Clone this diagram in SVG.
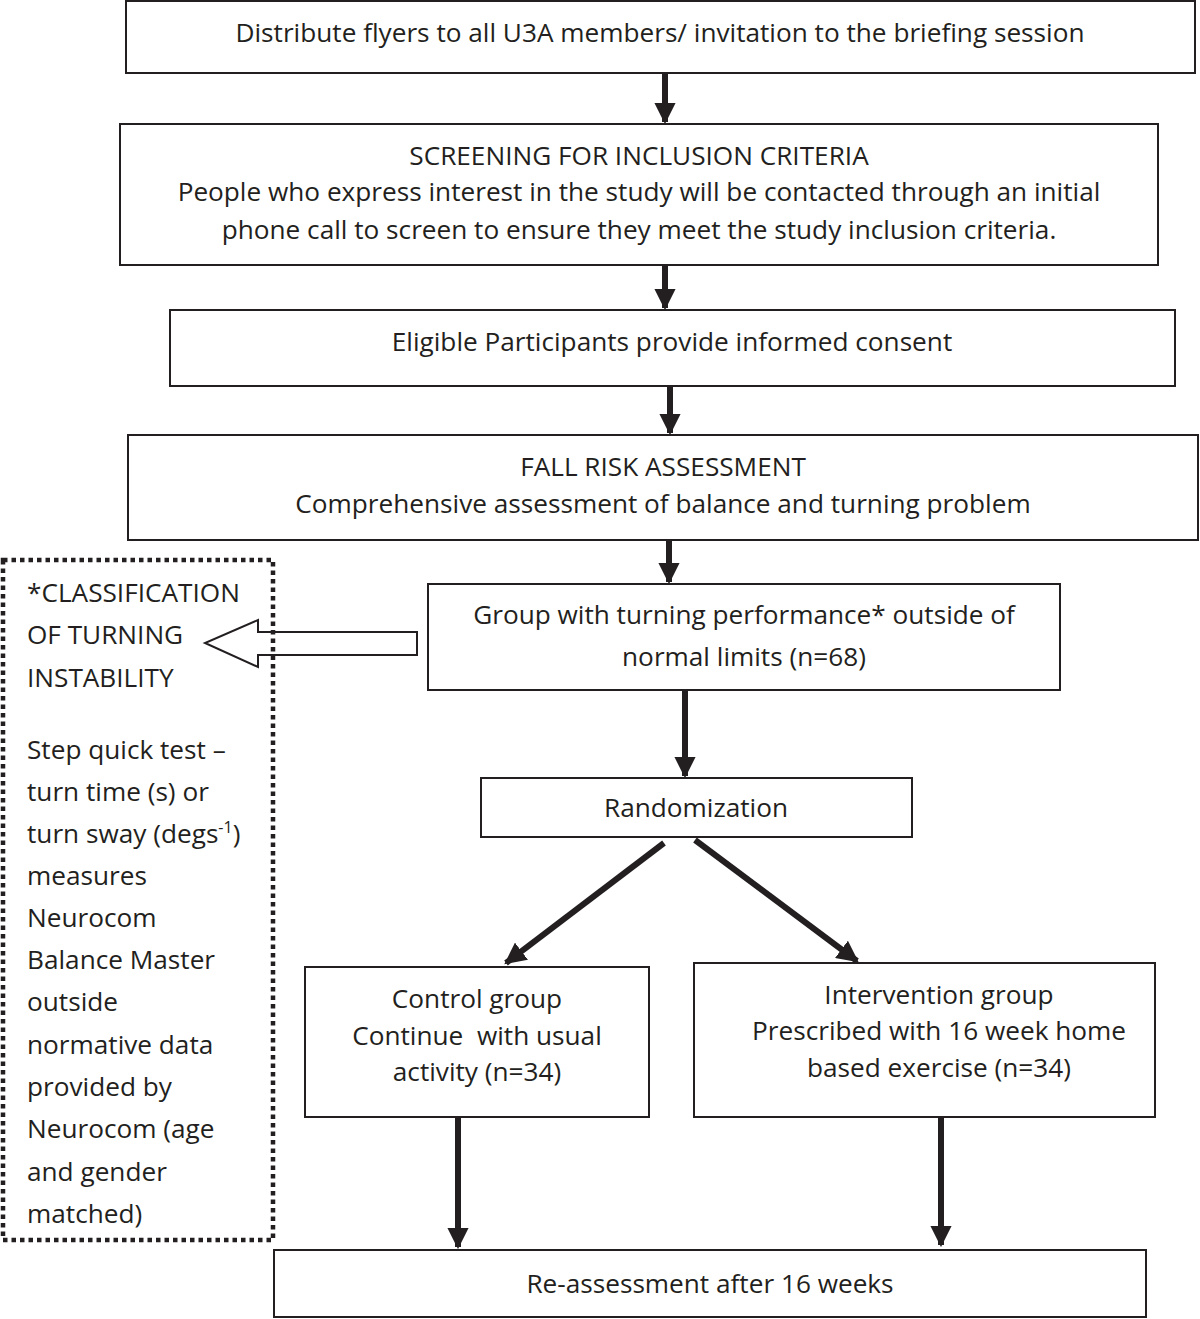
<svg xmlns="http://www.w3.org/2000/svg" width="1200" height="1319" viewBox="0 0 1200 1319">
<style>
.box{fill:#fff;stroke:#231f20;stroke-width:2}
.t{font-family:"Open Sans",Lato,"Liberation Sans",sans-serif;font-size:26.2px;fill:#231f20}
.c{text-anchor:middle}
.ln{stroke:#231f20;stroke-width:6;fill:none}
</style>
<defs>
<marker id="ah" viewBox="0 0 10 10" refX="9" refY="5" markerWidth="3.6" markerHeight="3.6" orient="auto" markerUnits="strokeWidth">
<path d="M0,0 L10,5 L0,10 z" fill="#231f20"/>
</marker>
</defs>
<rect width="1200" height="1319" fill="#fff"/>
<g id="connectors">
<line class="ln" x1="665" y1="73" x2="665" y2="122" marker-end="url(#ah)"/>
<line class="ln" x1="665" y1="265" x2="665" y2="308" marker-end="url(#ah)"/>
<line class="ln" x1="670" y1="386" x2="670" y2="433" marker-end="url(#ah)"/>
<line class="ln" x1="669" y1="532" x2="669" y2="582" marker-end="url(#ah)"/>
<line class="ln" x1="685" y1="688" x2="685" y2="776" marker-end="url(#ah)"/>
<line class="ln" x1="664" y1="843" x2="506" y2="963" marker-end="url(#ah)"/>
<line class="ln" x1="695" y1="840" x2="857" y2="961" marker-end="url(#ah)"/>
<line class="ln" x1="458" y1="1117" x2="458" y2="1247" marker-end="url(#ah)"/>
<line class="ln" x1="941" y1="1117" x2="941" y2="1245" marker-end="url(#ah)"/>
<path d="M417,632 L258,632 L258,620 L205,643 L258,667 L258,655 L417,655 Z" fill="#fff" stroke="#231f20" stroke-width="2"/>
</g>
<g id="n1"><rect class="box" x="126" y="1" width="1069" height="72"/>
<text class="t c" x="660" y="42">Distribute flyers to all U3A members/ invitation to the briefing session</text></g>
<g id="n2"><rect class="box" x="120" y="124" width="1038" height="141"/>
<text class="t c" x="639" y="165">SCREENING FOR INCLUSION CRITERIA</text>
<text class="t c" x="639" y="201">People who express interest in the study will be contacted through an initial</text>
<text class="t c" x="639" y="239">phone call to screen to ensure they meet the study inclusion criteria.</text></g>
<g id="n3"><rect class="box" x="170" y="310" width="1005" height="76"/>
<text class="t c" x="672" y="351">Eligible Participants provide informed consent</text></g>
<g id="n4"><rect class="box" x="128" y="435" width="1070" height="105"/>
<text class="t c" x="663" y="476">FALL RISK ASSESSMENT</text>
<text class="t c" x="663" y="513">Comprehensive assessment of balance and turning problem</text></g>
<g id="n5"><rect class="box" x="428" y="584" width="632" height="106"/>
<text class="t c" x="744" y="624">Group with turning performance* outside of</text>
<text class="t c" x="744" y="666">normal limits (n=68)</text></g>
<g id="n6"><rect fill="none" stroke="#231f20" stroke-width="4.5" stroke-dasharray="4.5 4" x="3" y="560" width="270" height="680"/>
<text class="t" x="27" y="602">*CLASSIFICATION</text>
<text class="t" x="27" y="644">OF TURNING</text>
<text class="t" x="27" y="687">INSTABILITY</text>
<text class="t" x="27" y="759">Step quick test –</text>
<text class="t" x="27" y="801">turn time (s) or</text>
<text class="t" x="27" y="843">turn sway (degs<tspan font-size="16" dy="-10">-1</tspan><tspan dy="10">)</tspan></text>
<text class="t" x="27" y="885">measures</text>
<text class="t" x="27" y="927">Neurocom</text>
<text class="t" x="27" y="969">Balance Master</text>
<text class="t" x="27" y="1011">outside</text>
<text class="t" x="27" y="1054">normative data</text>
<text class="t" x="27" y="1096">provided by</text>
<text class="t" x="27" y="1138">Neurocom (age</text>
<text class="t" x="27" y="1181">and gender</text>
<text class="t" x="27" y="1223">matched)</text></g>
<g id="n7"><rect class="box" x="481" y="778" width="431" height="59"/>
<text class="t c" x="696" y="817">Randomization</text></g>
<g id="n8"><rect class="box" x="305" y="967" width="344" height="150"/>
<text class="t c" x="477" y="1008">Control group</text>
<text class="t c" x="477" y="1045">Continue &#160;with usual</text>
<text class="t c" x="477" y="1081">activity (n=34)</text></g>
<g id="n9"><rect class="box" x="694" y="963" width="461" height="154"/>
<text class="t c" x="939" y="1004">Intervention group</text>
<text class="t c" x="939" y="1040">Prescribed with 16 week home</text>
<text class="t c" x="939" y="1077">based exercise (n=34)</text></g>
<g id="n10"><rect class="box" x="274" y="1250" width="872" height="67"/>
<text class="t c" x="710" y="1293">Re-assessment after 16 weeks</text></g>
</svg>
